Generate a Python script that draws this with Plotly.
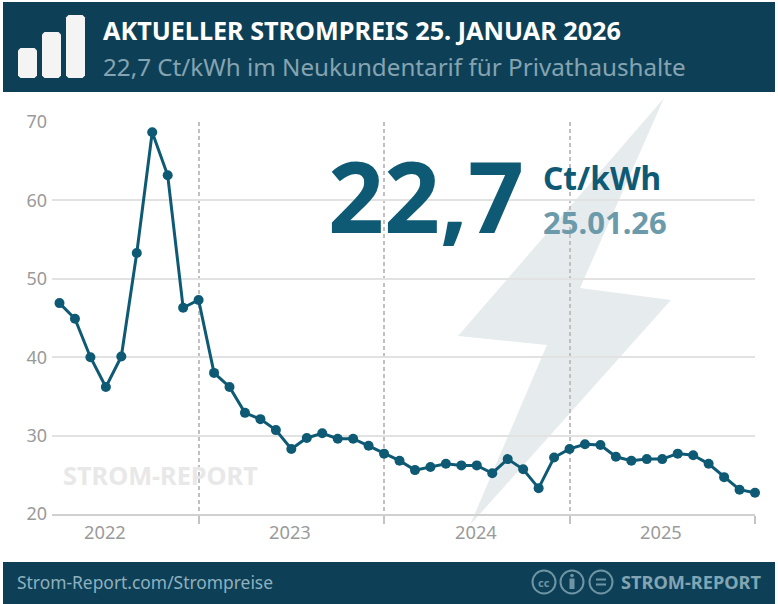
import plotly.graph_objects as go

W, H = 778, 604
L, R, T, B = 52, 755, 122, 514

month_index = list(range(46))
prices = [46.9, 44.9, 40.0, 36.2, 40.1, 53.3, 68.7, 63.2, 46.3, 47.3,
          38.0, 36.2, 32.9, 32.1, 30.7, 28.3, 29.7, 30.3, 29.6, 29.6, 28.7,
          27.7, 26.8, 25.6, 26.0, 26.4, 26.2, 26.2, 25.2, 27.0, 25.7, 23.3, 27.2,
          28.3, 28.9, 28.8, 27.3, 26.8, 27.0, 27.0, 27.7, 27.5, 26.4, 24.7, 23.1, 22.7]
year_ticks = [9, 21, 33, 45]
year_labels = ["2022", "2023", "2024", "2025"]
year_label_pos = [3, 15, 27, 39]
y_ticks = [20, 30, 40, 50, 60, 70]

DARK = "#0d4056"
LINE = "#0e5a74"
MUTED = "#86a3b1"
FONT = "Noto Sans"
GREY = "#9a9a9a"


def px(x):
    return (x - L) / (R - L)


def py(y):
    return (B - y) / (B - T)


def rect(x0, y0, x1, y1, color, layer="below"):
    return dict(type="rect", xref="paper", yref="paper", x0=px(x0), x1=px(x1),
                y0=py(y0), y1=py(y1), fillcolor=color, line_width=0, layer=layer)


def poly(points, color, layer="below"):
    d = "M " + " L ".join(f"{px(a):.5f},{py(b):.5f}" for a, b in points) + " Z"
    return dict(type="path", xref="paper", yref="paper", path=d, fillcolor=color,
                line_width=0, layer=layer)


def rrect(x0, y0, x1, y1, r, color):
    pts = [(x0 + r, y0), (x1 - r, y0), (x1, y0 + r), (x1, y1 - r),
           (x1 - r, y1), (x0 + r, y1), (x0, y1 - r), (x0, y0 + r)]
    return poly(pts, color, "above")


def circle(cx, cy, r, color, fill="rgba(0,0,0,0)", width=2):
    return dict(type="circle", xref="paper", yref="paper", x0=px(cx - r), x1=px(cx + r),
                y0=py(cy + r), y1=py(cy - r), line=dict(color=color, width=width),
                fillcolor=fill, layer="above")


def text(x, y, s, size, color, bold=False, anchor="left"):
    return dict(xref="paper", yref="paper", x=px(x), y=py(y), text=f"<b>{s}</b>" if bold else s,
                showarrow=False, xanchor=anchor, yanchor="middle",
                font=dict(family=FONT, size=size, color=color),
                borderpad=0, borderwidth=0)


ICON = "#6f95a5"
shapes = [
    poly([(664, 98), (458, 336), (547, 345), (470, 525), (671, 300), (580, 288)], "#e6ebee"),
    rect(3, 2, 775, 92, DARK, "above"),
    rect(3, 562, 775, 604, DARK, "above"),
    rrect(18, 48, 37, 78, 2.5, "#f4f4f4"),
    rrect(42, 32, 61, 78, 2.5, "#f4f4f4"),
    rrect(66, 15, 85, 78, 2.5, "#f4f4f4"),
    circle(544, 582, 11.5, ICON),
    circle(572, 582, 11.5, ICON),
    circle(601, 582, 11.5, ICON),
    circle(572, 575.5, 1.8, ICON, ICON, 0),
    rect(569.5, 578.5, 574.5, 589, ICON, "above"),
    rect(596, 578.5, 606, 580.5, ICON, "above"),
    rect(596, 583.5, 606, 585.5, ICON, "above"),
]

annotations = [
    text(103, 30, "AKTUELLER STROMPREIS 25. JANUAR 2026", 25.2, "#ffffff", True),
    text(103, 66, "22,7 Ct/kWh im Neukundentarif für Privathaushalte", 24.2, MUTED),
    text(17, 582, "Strom-Report.com/Strompreise", 17.4, "#8fb0bf"),
    text(621, 582, "STROM-REPORT", 18.2, "#82a5b4", True),
    text(544, 582, "cc", 11, ICON, True, "center"),
    text(426, 195, "22,7", 98, LINE, True, "center"),
    text(543, 177, "Ct/kWh", 31.7, LINE, True),
    text(543, 222, "25.01.26", 31, "#6b9aab", True),
    text(63, 475, "STROM-REPORT", 25.3, "#e8e8e8", True),
]
for pos, lab in zip(year_label_pos, year_labels):
    annotations.append(dict(xref="x", yref="paper", x=pos, y=py(531), text=lab, showarrow=False,
                            xanchor="center", yanchor="middle", xshift=-1,
                            font=dict(family=FONT, size=18.3, color=GREY)))

fig = go.Figure(go.Scatter(
    x=month_index, y=prices, mode="lines+markers", cliponaxis=False,
    line=dict(color=LINE, width=3),
    marker=dict(color=LINE, size=10),
))
fig.update_layout(
    width=W, height=H, autosize=False, showlegend=False,
    margin=dict(l=L, r=W - R, t=T, b=H - B, pad=0),
    paper_bgcolor="white", plot_bgcolor="white",
    shapes=shapes, annotations=annotations,
    xaxis=dict(range=[-0.485, 45], tickmode="array", tickvals=year_ticks, showticklabels=False,
               ticks="outside", ticklen=8, tickwidth=1.5, tickcolor="#c4c4c4",
               showgrid=True, gridcolor="#c0c0c0", griddash="4px,3px", gridwidth=1.5,
               showline=True, linecolor="#d0d0d0", linewidth=1.5,
               zeroline=False, fixedrange=True),
    yaxis=dict(range=[20, 70], tickmode="array", tickvals=y_ticks,
               tickfont=dict(family=FONT, size=18, color=GREY),
               ticks="", ticklabelstandoff=4, showgrid=True, gridcolor="#e2e2e2", gridwidth=1.5,
               showline=False, zeroline=False, fixedrange=True),
)
fig.write_html("out.html", config=dict(displayModeBar=False),
               post_script="document.body.style.margin='0';document.documentElement.style.overflow='hidden';")
